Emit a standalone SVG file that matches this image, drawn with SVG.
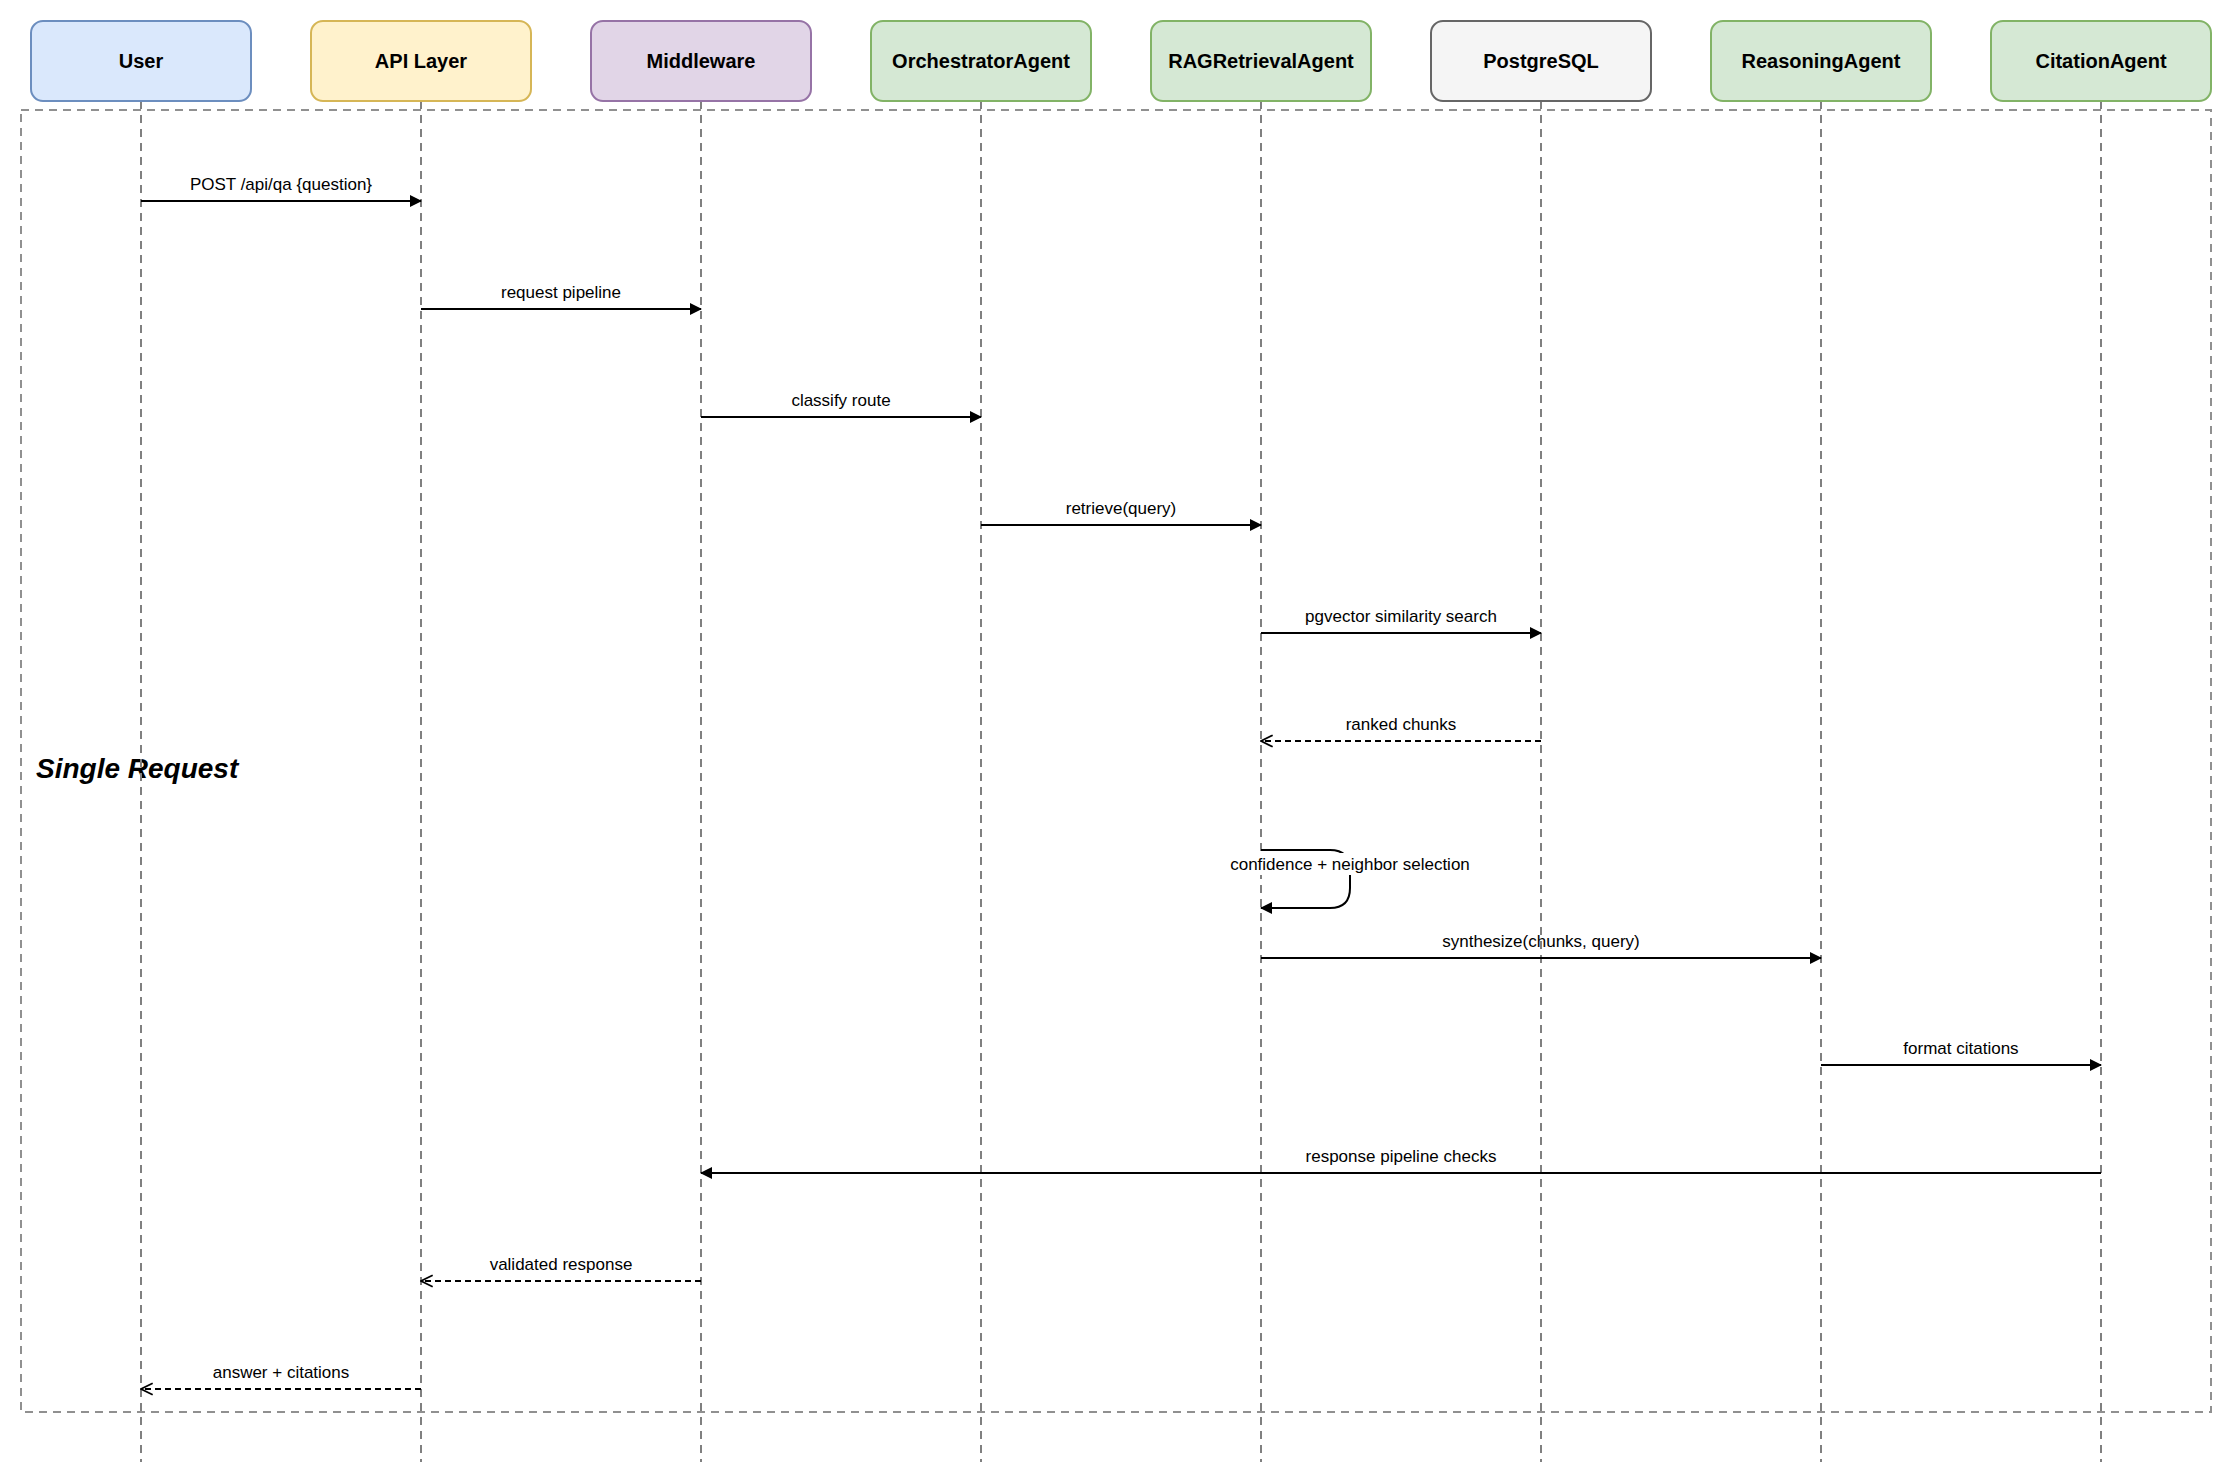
<svg xmlns="http://www.w3.org/2000/svg" width="2232" height="1484" viewBox="0 0 2232 1484">
<defs>
<marker id="fa" viewBox="0 0 12 12" refX="11" refY="6" markerWidth="12" markerHeight="12" markerUnits="userSpaceOnUse" orient="auto"><path d="M0,0 L12,6 L0,12 Z" fill="#000"/></marker>
<marker id="oa" viewBox="0 0 12 12" refX="11" refY="6" markerWidth="14" markerHeight="14" markerUnits="userSpaceOnUse" orient="auto"><path d="M1,1 L11,6 L1,11" fill="none" stroke="#000" stroke-width="1.5"/></marker>
</defs>
<style>
text{font-family:"Liberation Sans",Arial,sans-serif;fill:#000}
.n{font-size:20px;font-weight:bold;text-anchor:middle;dominant-baseline:central}
.l{font-size:17px;text-anchor:middle}
.life{stroke:#808080;stroke-width:2;stroke-dasharray:8,6}
.m{stroke:#000;stroke-width:2;fill:none;marker-end:url(#fa)}
.r{stroke:#000;stroke-width:2;fill:none;stroke-dasharray:6,4;marker-end:url(#oa)}
rect.b{stroke-width:2}
</style>
<rect width="2232" height="1484" fill="#fff"/>
<rect x="21" y="110" width="2190" height="1302" fill="none" stroke="#909090" stroke-width="2" stroke-dasharray="8,6"/>
<text x="36" y="778" style="font-size:28px;font-weight:bold;font-style:italic">Single Request</text>
<g id="lifelines">
<line class="life" x1="141" y1="101" x2="141" y2="1462"/>
<line class="life" x1="421" y1="101" x2="421" y2="1462"/>
<line class="life" x1="701" y1="101" x2="701" y2="1462"/>
<line class="life" x1="981" y1="101" x2="981" y2="1462"/>
<line class="life" x1="1261" y1="101" x2="1261" y2="1462"/>
<line class="life" x1="1541" y1="101" x2="1541" y2="1462"/>
<line class="life" x1="1821" y1="101" x2="1821" y2="1462"/>
<line class="life" x1="2101" y1="101" x2="2101" y2="1462"/>
</g>
<g id="user"><rect class="b" x="31" y="21" width="220" height="80" rx="12" fill="#dae8fc" stroke="#6c8ebf"/><text class="n" x="141" y="61">User</text></g>
<g id="api"><rect class="b" x="311" y="21" width="220" height="80" rx="12" fill="#fff2cc" stroke="#d6b656"/><text class="n" x="421" y="61">API Layer</text></g>
<g id="middleware"><rect class="b" x="591" y="21" width="220" height="80" rx="12" fill="#e1d5e7" stroke="#9673a6"/><text class="n" x="701" y="61">Middleware</text></g>
<g id="orchestrator"><rect class="b" x="871" y="21" width="220" height="80" rx="12" fill="#d5e8d4" stroke="#82b366"/><text class="n" x="981" y="61">OrchestratorAgent</text></g>
<g id="rag"><rect class="b" x="1151" y="21" width="220" height="80" rx="12" fill="#d5e8d4" stroke="#82b366"/><text class="n" x="1261" y="61">RAGRetrievalAgent</text></g>
<g id="postgres"><rect class="b" x="1431" y="21" width="220" height="80" rx="12" fill="#f5f5f5" stroke="#666666"/><text class="n" x="1541" y="61">PostgreSQL</text></g>
<g id="reasoning"><rect class="b" x="1711" y="21" width="220" height="80" rx="12" fill="#d5e8d4" stroke="#82b366"/><text class="n" x="1821" y="61">ReasoningAgent</text></g>
<g id="citation"><rect class="b" x="1991" y="21" width="220" height="80" rx="12" fill="#d5e8d4" stroke="#82b366"/><text class="n" x="2101" y="61">CitationAgent</text></g>
<g id="connectors">
<line class="m" x1="141" y1="201" x2="421" y2="201"/><text class="l" x="281" y="190">POST /api/qa {question}</text>
<line class="m" x1="421" y1="309" x2="701" y2="309"/><text class="l" x="561" y="298">request pipeline</text>
<line class="m" x1="701" y1="417" x2="981" y2="417"/><text class="l" x="841" y="406">classify route</text>
<line class="m" x1="981" y1="525" x2="1261" y2="525"/><text class="l" x="1121" y="514">retrieve(query)</text>
<line class="m" x1="1261" y1="633" x2="1541" y2="633"/><text class="l" x="1401" y="622">pgvector similarity search</text>
<line class="r" x1="1541" y1="741" x2="1261" y2="741"/><text class="l" x="1401" y="730">ranked chunks</text>
<path class="m" d="M1261,850 H1330 Q1350,850 1350,870 V888 Q1350,908 1330,908 H1261"/>
<rect x="1222" y="853" width="256" height="22" fill="#fff"/>
<text class="l" x="1350" y="870">confidence + neighbor selection</text>
<line class="m" x1="1261" y1="958" x2="1821" y2="958"/><text class="l" x="1541" y="947">synthesize(chunks, query)</text>
<line class="m" x1="1821" y1="1065" x2="2101" y2="1065"/><text class="l" x="1961" y="1054">format citations</text>
<line class="m" x1="2101" y1="1173" x2="701" y2="1173"/><text class="l" x="1401" y="1162">response pipeline checks</text>
<line class="r" x1="701" y1="1281" x2="421" y2="1281"/><text class="l" x="561" y="1270">validated response</text>
<line class="r" x1="421" y1="1389" x2="141" y2="1389"/><text class="l" x="281" y="1378">answer + citations</text>
</g>
</svg>
